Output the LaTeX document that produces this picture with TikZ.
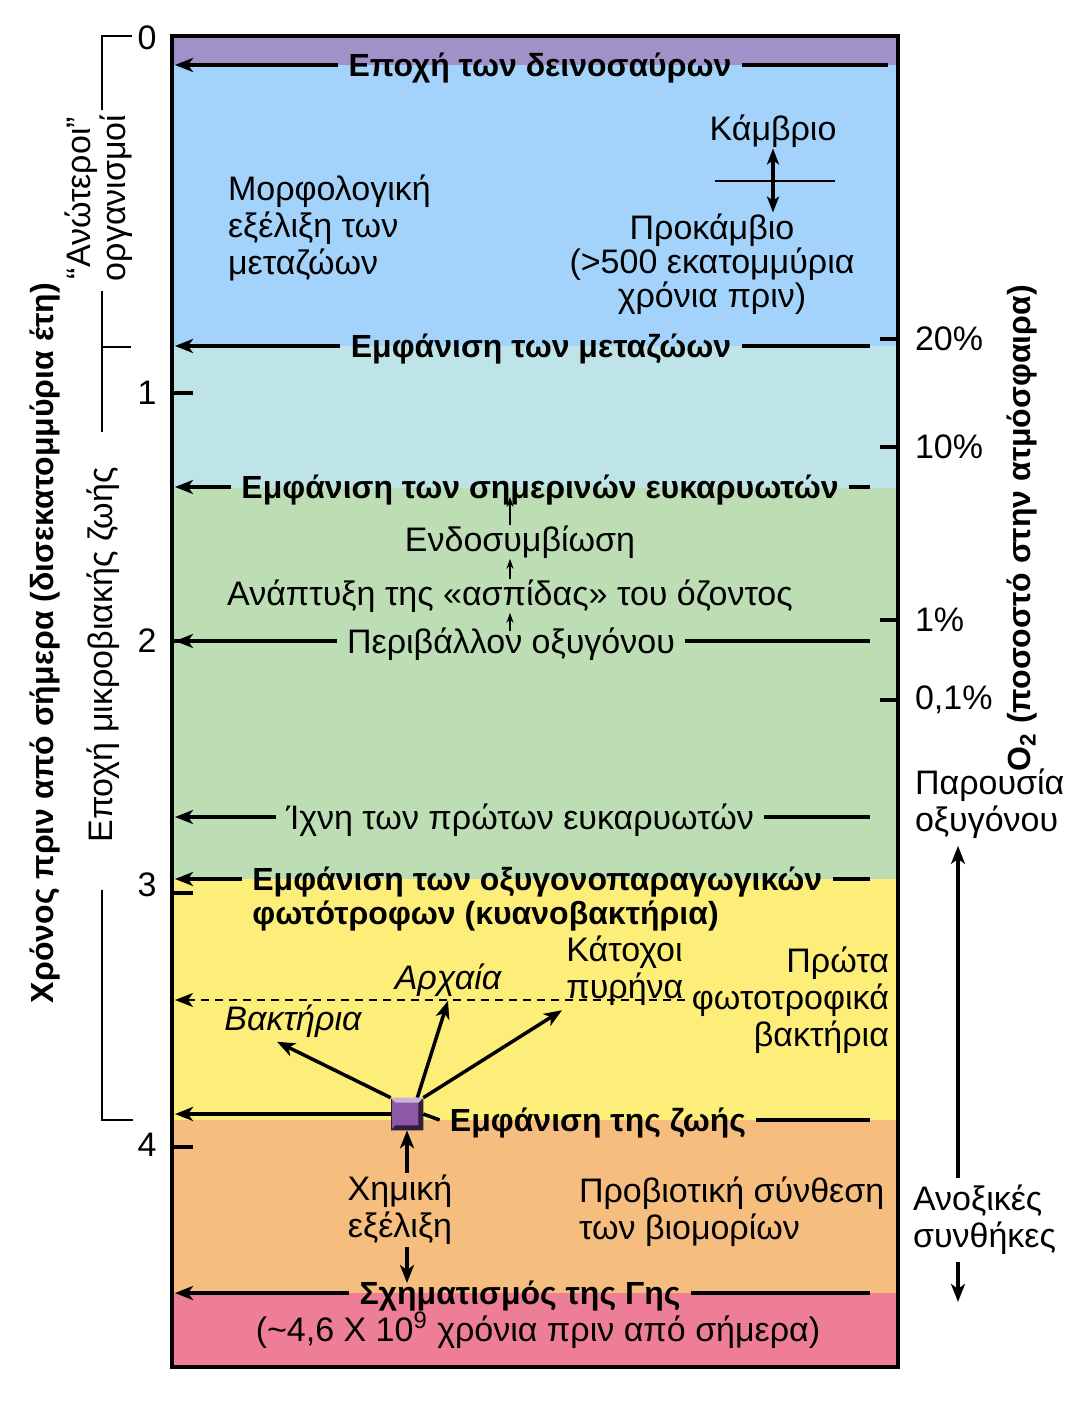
\documentclass[tikz,border=0pt]{standalone}
\usepackage{fontspec}
\setmainfont{Liberation Sans}
\usetikzlibrary{positioning, arrows.meta, calc}
\definecolor{dinopurple}{RGB}{160,146,200}
\definecolor{metazoablue}{RGB}{163,211,250}
\definecolor{eukcyan}{RGB}{190,228,232}
\definecolor{oxygreen}{RGB}{189,222,181}
\definecolor{cyanoyellow}{RGB}{253,238,122}
\definecolor{prebioorange}{RGB}{245,190,126}
\definecolor{earthpink}{RGB}{238,126,150}
\definecolor{lifepurple}{RGB}{142,88,168}
\newcommand\basefont{\fontsize{17}{18.5}\selectfont}
\newcommand\eventfont{\fontsize{16}{18}\selectfont\bfseries}

\begin{document}
\begin{tikzpicture}[
  % 1 unit = 1 pixel of the page, y grows downwards
  x=0.5pt, y=-0.5pt,
  % arrow tips
  >={Stealth[length=9pt, width=7pt, inset=2.5pt]},
  % text styles
  every node/.style={font=\basefont},
  event/.style={font=\eventfont, text height=11.5pt, text depth=0pt,
    inner xsep=5pt, inner ysep=1pt},
  quiet/.style={text height=12pt, text depth=0pt, inner xsep=5pt, inner ysep=1pt},
  note/.style={inner sep=2pt},
  % connector styles
  timeline/.style={->, line width=1.75pt},
  rule/.style={line width=1.75pt},
  growth/.style={->, line width=1.75pt},
  smallarrow/.style={-{Stealth[length=5pt, width=3.5pt]}, line width=0.8pt,
    shorten <=-2pt, shorten >=-2pt},
  bracket/.style={line width=1pt},
  tickmark/.style={line width=1.75pt}
]
\useasboundingbox (0,0) rectangle (1088,1411);

% ─── Coloured eras ─────────────────────────────────────────────────────────
\fill[dinopurple]   (172,36)   rectangle (898,65);
\fill[metazoablue]  (172,65)   rectangle (898,346);
\fill[eukcyan]      (172,346)  rectangle (898,488);
\fill[oxygreen]     (172,488)  rectangle (898,879);
\fill[cyanoyellow]  (172,879)  rectangle (898,1120);
\fill[prebioorange] (172,1120) rectangle (898,1293);
\fill[earthpink]    (172,1293) rectangle (898,1367);

% line ends of the timeline arrows
\coordinate (leftedge) at (175,0);
\coordinate (rightedge) at (870,0);
\coordinate (oxyx) at (510,0);

% ─── Time axis (left) ──────────────────────────────────────────────────────
\foreach \lab/\y in {0/38, 1/393, 2/641, 3/885, 4/1145}
  \node (age\lab) at (147,\y) {\lab};
\foreach \y in {393, 641, 893, 1147}
  \draw[tickmark] (172,\y) -- (193,\y);

\node[font=\fontsize{16}{18}\selectfont\bfseries, rotate=90] (timeaxis)
  at (45,643) {Χρόνος πριν από σήμερα (δισεκατομμύρια έτη)};

% era brackets
\draw[bracket] (132,36) -- (102,36) -- (102,110);
\draw[bracket] (102,291) -- (102,432);
\draw[bracket] (102,347) -- (131,347);
\draw[bracket] (102,890) -- (102,1120) -- (133,1120);
\node[rotate=90, align=center, font=\fontsize{17}{17.5}\selectfont] (higher)
  at (99,198) {“Ανώτεροι”\\οργανισμοί};
\node[rotate=90] (microbial) at (103,655) {Εποχή μικροβιακής ζωής};

% ─── Oxygen axis (right) ───────────────────────────────────────────────────
\foreach \lab/\y in {20\%/339, 10\%/447, 1\%/620, {0,1\%}/700} {
  \draw[tickmark] (880,\y) -- (898,\y);
  \node[anchor=west] at (908,\y) {\lab};
}
\node[font=\fontsize{16}{18}\selectfont\bfseries, rotate=90] (oxyaxis)
  at (1022,528) {O\textsubscript{2} (ποσοστό στην ατμόσφαιρα)};

\node[anchor=west, align=left] (oxypresent) at (908,804) {Παρουσία\\οξυγόνου};
\node[anchor=west, align=left] (anoxic) at (906,1220) {Ανοξικές\\συνθήκες};
\coordinate (oxyarrowx) at (958,0);
\draw[growth] (oxyarrowx |- anoxic.north) -- (oxyarrowx |- oxypresent.south);
\draw[growth] (oxyarrowx |- anoxic.south) -- ++(0,40);

% ─── Events on the timeline ────────────────────────────────────────────────
% Dinosaurs
\node[event] (dino) at (540,65) {Εποχή των δεινοσαύρων};
\draw[timeline] (dino.west) -- (dino.west -| leftedge);
\draw[rule] (dino.east) -- (888,65);

% Cambrian / Precambrian
\node (camb) at (773,131) {Κάμβριο};
\node[align=center, font=\fontsize{17}{17}\selectfont] (precamb) at (712,264)
  {Προκάμβιο\\(>500 εκατομμύρια\\χρόνια πριν)};
\draw[line width=1pt] (715,181) -- (835,181);
\draw[{Stealth[length=8pt, width=6pt, inset=2pt]}-{Stealth[length=8pt, width=6pt, inset=2pt]},
      line width=1.75pt, shorten <=-3pt, shorten >=-3pt]
  (camb.south) -- (camb.south |- precamb.north);

\node[anchor=west, align=left] (morpho) at (221,228)
  {Μορφολογική\\εξέλιξη των\\μεταζώων};

% Metazoa
\node[event] (metazoa) at (541,346) {Εμφάνιση των μεταζώων};
\draw[timeline] (metazoa.west) -- (metazoa.west -| leftedge);
\draw[rule] (metazoa.east) -- (metazoa.east -| rightedge);

% Modern eukaryotes
\node[event] (euk) at (540,487) {Εμφάνιση των σημερινών ευκαρυωτών};
\draw[timeline] (euk.west) -- (euk.west -| leftedge);
\draw[rule] (euk.east) -- (euk.east -| rightedge);

\node[note] (endo) at (520,542) {Ενδοσυμβίωση};
\node[note] (ozone) at (510,596) {Ανάπτυξη της «ασπίδας» του όζοντος};

% Oxygen environment
\node[quiet] (oxyenv) at (511,641) {Περιβάλλον οξυγόνου};
\draw[timeline] (oxyenv.west) -- (oxyenv.west -| leftedge);
\draw[rule] (oxyenv.east) -- (oxyenv.east -| rightedge);

\draw[smallarrow] (oxyx |- endo.north) -- (oxyx |- euk.south);
\draw[smallarrow] (oxyx |- ozone.north) -- (oxyx |- endo.south);
\draw[smallarrow] (oxyx |- oxyenv.north) -- (oxyx |- ozone.south);

% First eukaryotes
\node[quiet] (firsteuk) at (520,817) {Ίχνη των πρώτων ευκαρυωτών};
\draw[timeline] (firsteuk.west) -- (firsteuk.west -| leftedge);
\draw[rule] (firsteuk.east) -- (firsteuk.east -| rightedge);

% Cyanobacteria
\node[event, anchor=west] (cyano) at (242,879) {Εμφάνιση των οξυγονοπαραγωγικών};
\node[event, anchor=west] (cyanob) at (242,913) {φωτότροφων (κυανοβακτήρια)};
\draw[timeline] (cyano.west) -- (cyano.west -| leftedge);
\draw[rule] (cyano.east) -- (cyano.east -| rightedge);

% First phototrophs
\node[anchor=east, align=right] (photo) at (896,1000)
  {Πρώτα\\φωτοτροφικά\\βακτήρια};
\draw[timeline, dashed, dash pattern=on 4pt off 3pt, line width=1pt]
  (photo.west) -- (photo.west -| leftedge);

\node[note, anchor=west, align=left] (nucleus) at (562,971) {Κάτοχοι\\πυρήνα};
\node[note, font=\basefont\itshape] (archaea) at (448,980) {Αρχαία};
\node[note, font=\basefont\itshape] (bacteria) at (293,1021) {Βακτήρια};

% Origin of life
\node[event] (lifetext) at (598,1120) {Εμφάνιση της ζωής};
\node[draw=black!85, line width=0.8pt, fill=lifepurple, minimum size=15.5pt,
      inner sep=0pt] (life) at (407,1114) {};
\draw[growth] (life.north west) -- ([xshift=-8pt]bacteria.south);
\draw[growth] ([xshift=-3pt]life.north east) -- (archaea.south);
\draw[growth] (life.north east) -- (nucleus.south west);
% bevel of the square
\fill[lifepurple!35!black] (life.south west) -- (life.south east)
  -- (life.north east) -- ([shift={(-2.5pt,-2.5pt)}]life.north east)
  -- ([shift={(-2.5pt,2.5pt)}]life.south east)
  -- ([shift={(2.5pt,2.5pt)}]life.south west) -- cycle;
\fill[lifepurple!45!white] (life.north west) -- (life.north east)
  -- ([shift={(-2.5pt,-2.5pt)}]life.north east)
  -- ([shift={(2.5pt,-2.5pt)}]life.north west) -- cycle;
\draw[timeline] (life.west) -- (life.west -| leftedge);
\draw[rule] (life.east) -- (lifetext.west);
\draw[rule] (lifetext.east) -- (lifetext.east -| rightedge);

% Chemical evolution
\node[align=center, inner sep=1pt] (chem) at (400,1210) {Χημική\\εξέλιξη};
\node[anchor=west, align=left] (prebio) at (572,1212)
  {Προβιοτική σύνθεση\\των βιομορίων};

% Formation of the Earth
\node[event] (earth) at (520,1293) {Σχηματισμός της Γης};
\draw[timeline] (earth.west) -- (earth.west -| leftedge);
\draw[rule] (earth.east) -- (earth.east -| rightedge);
\node (earthage) at (538,1330)
  {(\textasciitilde 4,6 X 10\textsuperscript{9} χρόνια πριν από σήμερα)};

\draw[growth] (life.south |- chem.north) -- (life.south);
\draw[growth, shorten >=5pt] (life.south |- chem.south) -- (life.south |- earth.center);

% ─── Frame ─────────────────────────────────────────────────────────────────
\draw[line width=2.25pt] (172,36) rectangle (898,1367);

\end{tikzpicture}
\end{document}
